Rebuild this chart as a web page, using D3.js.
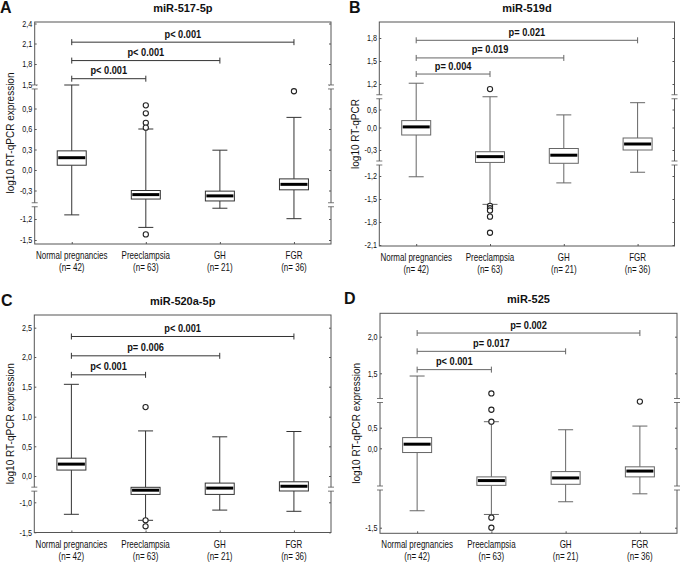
<!DOCTYPE html>
<html>
<head>
<meta charset="utf-8">
<script src="https://cdn.jsdelivr.net/npm/d3@7"></script>
<style>
  html, body { margin: 0; padding: 0; background: #fff; }
  svg { display: block; }
  text { font-family: "Liberation Sans", Arial, sans-serif; }
</style>
</head>
<body>
<svg id="chart" width="680" height="567"></svg>
<script>
// groups shared by all four panels
const groups = ["Normal pregnancies", "Preeclampsia", "GH", "FGR"];
const groupN = ["(n= 42)", "(n= 63)", "(n= 21)", "(n= 36)"];

const letters = ["A", "B", "C", "D"];
const titles = ["miR-517-5p", "miR-519d", "miR-520a-5p", "miR-525"];
const yTitles = ["log10 RT-qPCR expression", "log10 RT-qPCR", "log10 RT-qPCR expression", "log10 RT-qPCR expression"];

// tick labels (the axes are broken, so not evenly spaced)
const ticksA = [-1.5, -1.2, -0.3, 0.0, 0.3, 0.6, 0.9, 1.5, 1.8, 2.1, 2.4];
const ticksB = [-2.1, -1.8, -1.5, -1.2, -0.3, 0.0, 0.6, 1.2, 1.5, 1.8];
const ticksC = [-1.5, -1.0, 0.0, 0.5, 1.0, 1.5, 2.0, 2.5];
const ticksD = [-1.5, 0.0, 0.5, 1.5, 2.0];

// axis breaks
const breaksA = [-0.75, 1.45];
const breaksB = [-0.75, 0.9];
const breaksC = [-0.5];
const breaksD = [-0.75, 1.0];

// box stats per group: [lower whisker, q1, median, q3, upper whisker]
const boxA = [[-1.07, 0.07, 0.18, 0.28, 1.50], [-1.32, -0.57, -0.43, -0.30, 0.60], [-0.86, -0.63, -0.47, -0.32, 0.29], [-1.19, -0.29, -0.21, -0.13, 0.77]];
const boxB = [[-1.21, -0.10, 0.02, 0.23, 1.21], [-1.57, -0.73, -0.53, -0.36, 0.90], [-1.29, -0.76, -0.48, -0.28, 0.42], [-1.07, -0.30, -0.22, -0.14, 0.76]];
const boxC = [[-1.20, 0.10, 0.20, 0.30, 1.54], [-1.30, -0.70, -0.54, -0.43, 0.76], [-1.13, -0.70, -0.46, -0.27, 0.66], [-1.15, -0.57, -0.39, -0.22, 0.75]];
const boxD = [[-1.18, -0.08, 0.10, 0.26, 1.45], [-1.25, -0.70, -0.61, -0.54, 0.61], [-1.01, -0.68, -0.56, -0.44, 0.45], [-0.86, -0.54, -0.43, -0.35, 0.53]];

// outliers per group
const outA = [[], [0.98, 0.83, 0.69, 0.62, -1.42], [], [1.34]];
const outB = [[], [1.08, -1.59, -1.62, -1.65, -1.73, -1.94], [], []];
const outC = [[], [1.16, -1.30, -1.40], [], []];
const outD = [[], [1.13, 0.83, 0.61, -1.31, -1.50], [], [0.98]];

// comparison brackets vs normal pregnancies (Preeclampsia, GH, FGR)
const bracketA = [1.59, 1.85, 2.12];
const bracketB = [1.33, 1.54, 1.77];
const bracketC = [1.70, 2.02, 2.35];
const bracketD = [1.55, 1.80, 2.05];
const pA = ["p< 0.001", "p< 0.001", "p< 0.001"];
const pB = ["p= 0.004", "p= 0.019", "p= 0.021"];
const pC = ["p< 0.001", "p= 0.006", "p< 0.001"];
const pD = ["p< 0.001", "p= 0.017", "p= 0.002"];

// layout: frame and where each tick label sits (same order as ticks)
const layout = [
  { x0: 34.7, x1: 331, y0: 22, y1: 244, tickPos: [240, 219, 190.5, 170, 149.5, 129, 108.5, 85, 64, 43.5, 23.5], lx: 0, stroke: "#333" },
  { x0: 379.3, x1: 674.5, y0: 22, y1: 246, tickPos: [245, 222, 199, 176, 150, 127.5, 109.5, 84, 61, 38], lx: 349, stroke: "#666" },
  { x0: 34.3, x1: 331, y0: 315, y1: 532.5, tickPos: [532.3, 502.3, 476, 446.3, 416.7, 386.7, 357, 327.7], lx: 1, stroke: "#333" },
  { x0: 380, x1: 677, y0: 313.3, y1: 533.3, tickPos: [527.7, 448.3, 427.7, 373.3, 336.7], lx: 344, stroke: "#666" }
];

const panels = [
  { ticks: ticksA, breaks: breaksA, boxes: boxA, outliers: outA, brackets: bracketA, pLabels: pA },
  { ticks: ticksB, breaks: breaksB, boxes: boxB, outliers: outB, brackets: bracketB, pLabels: pB },
  { ticks: ticksC, breaks: breaksC, boxes: boxC, outliers: outC, brackets: bracketC, pLabels: pC },
  { ticks: ticksD, breaks: breaksD, boxes: boxD, outliers: outD, brackets: bracketD, pLabels: pD }
];

const locale = d3.formatLocale({ decimal: ",", thousands: ".", grouping: [3], currency: ["", ""], minus: "-" });
const fmt = locale.format(".1f");

const svg = d3.select("#chart");
svg.append("rect").attr("width", 680).attr("height", 567).attr("fill", "#fff");

// condensed text: no narrow font installed, so squeeze horizontally
const narrowText = (sel, x, y, txt, size, sx, bold) => sel.append("text")
  .attr("transform", `translate(${x},${y}) scale(${sx},1)`)
  .attr("text-anchor", "middle")
  .attr("font-size", size)
  .attr("font-weight", bold ? "bold" : null)
  .attr("fill", "#111")
  .text(txt);

panels.forEach((p, i) => {
  const L = layout[i];
  const g = svg.append("g");

  const x = d3.scalePoint().domain(groups).range([L.x0, L.x1]).padding(0.5);
  const y = d3.scaleLinear().domain(p.ticks).range(L.tickPos);

  // frame
  g.append("rect")
    .attr("x", L.x0).attr("y", L.y0)
    .attr("width", L.x1 - L.x0).attr("height", L.y1 - L.y0)
    .attr("fill", "none").attr("stroke", "#555").attr("stroke-width", 1);

  // left axis
  const yAxis = g.append("g")
    .attr("transform", `translate(${L.x0},0)`)
    .call(d3.axisLeft(y).tickValues(p.ticks).tickFormat(fmt).tickSizeInner(-2).tickSizeOuter(0).tickPadding(3));
  yAxis.attr("font-family", null).attr("font-size", null);
  yAxis.select(".domain").remove();
  yAxis.selectAll("line").attr("stroke", "#555");
  yAxis.selectAll("text")
    .attr("font-size", 9).attr("fill", "#111")
    .attr("transform", "scale(0.8,1)");

  // right axis ticks only
  const rAxis = g.append("g")
    .attr("transform", `translate(${L.x1},0)`)
    .call(d3.axisRight(y).tickValues(p.ticks).tickFormat("").tickSizeInner(-2).tickSizeOuter(0));
  rAxis.select(".domain").remove();
  rAxis.selectAll("line").attr("stroke", "#555");

  // bottom ticks
  const xAxis = g.append("g")
    .attr("transform", `translate(0,${L.y1})`)
    .call(d3.axisBottom(x).tickFormat("").tickSizeInner(-2).tickSizeOuter(0));
  xAxis.select(".domain").remove();
  xAxis.selectAll("line").attr("stroke", "#555");

  // category labels
  groups.forEach((name, j) => {
    narrowText(g, x(name), L.y1 + 15, name, 10, 0.8, false);
    narrowText(g, x(name), L.y1 + 27, groupN[j], 10, 0.8, false);
  });

  // axis break marks
  p.breaks.forEach(b => {
    [L.x0, L.x1].forEach(bx => {
      g.append("line").attr("x1", bx).attr("x2", bx).attr("y1", y(b) - 2).attr("y2", y(b) + 2)
        .attr("stroke", "#fff").attr("stroke-width", 3);
      g.append("line").attr("x1", bx - 3).attr("x2", bx + 3).attr("y1", y(b) - 2).attr("y2", y(b) - 2)
        .attr("stroke", "#555").attr("stroke-width", 0.8);
      g.append("line").attr("x1", bx - 3).attr("x2", bx + 3).attr("y1", y(b) + 2).attr("y2", y(b) + 2)
        .attr("stroke", "#555").attr("stroke-width", 0.8);
    });
  });

  // y title
  g.append("text")
    .attr("transform", `translate(${L.x0 - 24},${(L.y0 + L.y1) / 2}) rotate(-90)`)
    .attr("text-anchor", "middle").attr("dominant-baseline", "central")
    .attr("font-size", 10).attr("fill", "#111")
    .text(yTitles[i]);

  // panel title and letter
  g.append("text")
    .attr("x", (L.x0 + L.x1) / 2).attr("y", L.y0 - 10)
    .attr("text-anchor", "middle").attr("font-size", 11).attr("font-weight", "bold").attr("fill", "#111")
    .text(titles[i]);
  g.append("text")
    .attr("x", L.lx).attr("y", L.y0 - 9)
    .attr("font-size", 16).attr("font-weight", "bold").attr("fill", "#111")
    .text(letters[i]);

  // boxes
  const bw = 29, cw = 15;
  const boxes = g.selectAll(".box").data(p.boxes).enter().append("g")
    .attr("transform", (d, j) => `translate(${x(groups[j])},0)`);
  boxes.append("line").attr("x1", 0).attr("x2", 0)
    .attr("y1", d => y(d[0])).attr("y2", d => y(d[1])).attr("stroke", L.stroke);
  boxes.append("line").attr("x1", 0).attr("x2", 0)
    .attr("y1", d => y(d[3])).attr("y2", d => y(d[4])).attr("stroke", L.stroke);
  boxes.append("line").attr("x1", -cw / 2).attr("x2", cw / 2)
    .attr("y1", d => y(d[0])).attr("y2", d => y(d[0])).attr("stroke", L.stroke);
  boxes.append("line").attr("x1", -cw / 2).attr("x2", cw / 2)
    .attr("y1", d => y(d[4])).attr("y2", d => y(d[4])).attr("stroke", L.stroke);
  boxes.append("rect").attr("x", -bw / 2).attr("width", bw)
    .attr("y", d => y(d[3])).attr("height", d => y(d[1]) - y(d[3]))
    .attr("fill", "#fff").attr("stroke", L.stroke);
  boxes.append("line").attr("x1", -bw / 2 + 1).attr("x2", bw / 2 - 1)
    .attr("y1", d => y(d[2])).attr("y2", d => y(d[2]))
    .attr("stroke", "#000").attr("stroke-width", 3);

  // outliers
  p.outliers.forEach((vals, j) => {
    g.selectAll(null).data(vals).enter().append("circle")
      .attr("cx", x(groups[j])).attr("cy", d => y(d)).attr("r", 2.6)
      .attr("fill", "#fff").attr("stroke", "#222").attr("stroke-width", 1.1);
  });

  // significance brackets
  p.brackets.forEach((b, j) => {
    const xa = x(groups[0]), xb = x(groups[j + 1]), yy = y(b);
    g.append("line").attr("x1", xa).attr("x2", xb).attr("y1", yy).attr("y2", yy).attr("stroke", L.stroke);
    [xa, xb].forEach(xx => g.append("line").attr("x1", xx).attr("x2", xx)
      .attr("y1", yy - 3).attr("y2", yy + 3).attr("stroke", L.stroke));
    narrowText(g, (xa + xb) / 2, yy - 4.5, p.pLabels[j], 10.5, 0.88, true);
  });
});
</script>
</body>
</html>
